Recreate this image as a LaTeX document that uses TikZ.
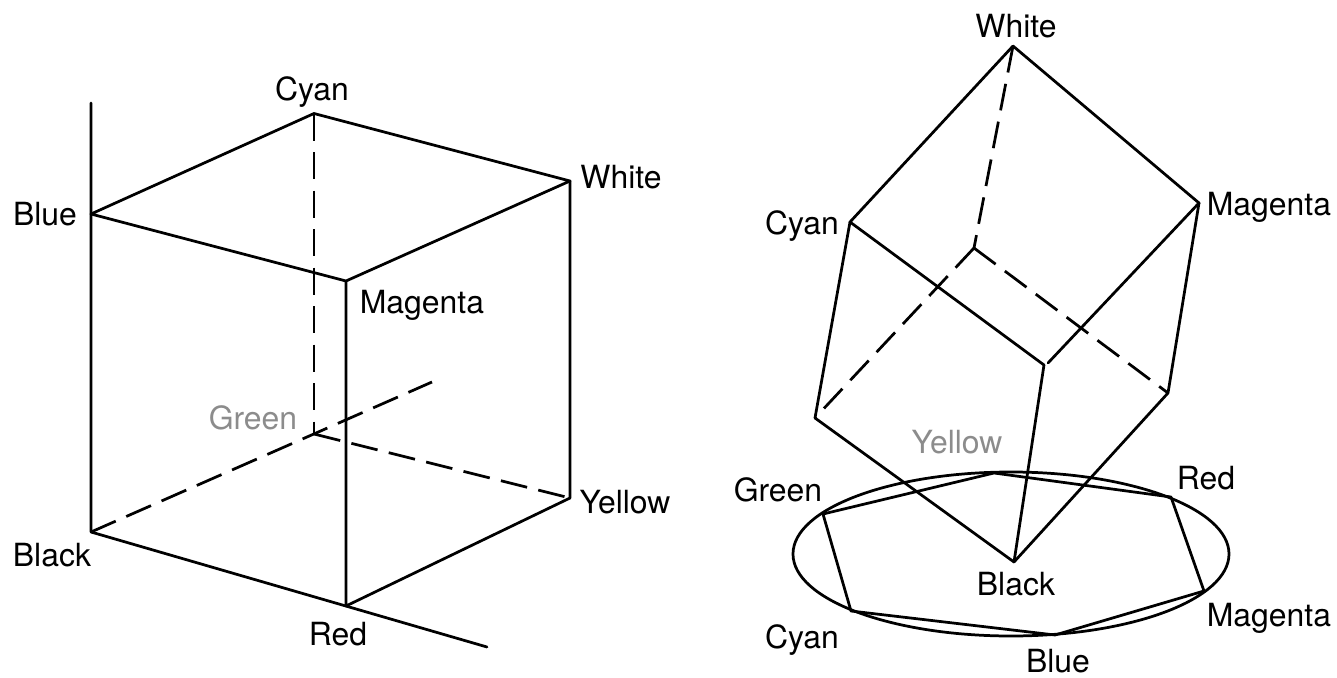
\documentclass[tikz,border=0pt]{standalone}
\usepackage{fontspec}
\setmainfont{TeX Gyre Heros}
\usepackage{tikz,pgf}
\usetikzlibrary{calc}
\tikzset{
  edge/.style={color=black,line width=1.95pt},
  hidden/.style={edge,line cap=butt,dash pattern=on 19.2pt off 8.2pt},
  lbl/.style={color=black,inner sep=0pt,anchor=base,font=\fontsize{22.7}{27}\selectfont},
  lblgray/.style={lbl,color=black!45}
}
\begin{document}
\begin{tikzpicture}[line cap=round,line join=round,x=0.025cm,y=-0.025cm]
      \useasboundingbox (0,0) rectangle (1337,678);
      % cube on the left
      \coordinate (blue) at (91,214);
      \coordinate (cyan) at (314,113.5);
      \coordinate (white) at (570,181);
      \coordinate (magenta) at (346,281);
      \coordinate (black) at (91,532);
      \coordinate (green) at (314,434);
      \coordinate (yellow) at (570,498);
      \coordinate (red) at (346,606);
      \coordinate (axisb) at (91,103);
      \coordinate (axisr) at (487,647);
      \coordinate (axisg) at (432,382);
      \draw[edge] (axisb) -- (black) -- (axisr);
      \draw[edge] (blue) -- (cyan) -- (white) -- (magenta) -- cycle;
      \draw[edge] (magenta) -- (red) -- (yellow) -- (white);
      \draw[hidden] (cyan) -- (green);
      \draw[hidden] (black) -- (axisg);
      \draw[hidden] (green) -- (yellow);
      \node[lbl] (lcyan) at (312,100) {Cyan};
      \node[lbl] (lblue) at (45,225) {Blue};
      \node[lbl] (lwhite) at (621,188) {White};
      \node[lbl] (lmagenta) at (422,313) {Magenta};
      \node[lblgray] (lgreen) at (253,429) {Green};
      \node[lbl] (lyellow) at (625,513) {Yellow};
      \node[lbl] (lblack) at (52,566) {Black};
      \node[lbl] (lred) at (338,645) {Red};
      % cube on the right
      \coordinate (rwhite) at (1013,46);
      \coordinate (rcyan) at (850,222);
      \coordinate (rmagenta) at (1199,203);
      \coordinate (rgreen) at (815,418);
      \coordinate (rblue) at (1044,365);
      \coordinate (rblueb) at (1048,363);
      \coordinate (rred) at (1168,393);
      \coordinate (rblack) at (1014,562);
      \coordinate (ryellow) at (974,248);
      \draw[edge] (rblueb) -- (rmagenta) -- (rwhite) -- (rcyan) -- (rblue) -- (rblack);
      \draw[edge] (rcyan) -- (rgreen) -- (rblack) -- (rred) -- (rmagenta);
      \draw[hidden] (rwhite) -- (ryellow);
      \draw[hidden] (ryellow) -- (rgreen);
      \draw[hidden] (ryellow) -- (rred);
      % hexagon
      \draw[edge] (1011,554) ellipse (218 and 82);
      \coordinate (hyellow) at (994,473);
      \coordinate (hred) at (1171,497);
      \coordinate (hmagenta) at (1204,591);
      \coordinate (hblue) at (1055,635);
      \coordinate (hcyan) at (851,611);
      \coordinate (hgreen) at (823,514);
      \draw[edge] (hyellow) -- (hred) -- (hmagenta) -- (hblue) -- (hcyan) -- (hgreen) -- cycle;
      \node[lbl] (twhite) at (1016,37) {White};
      \node[lbl] (tcyan) at (802,234) {Cyan};
      \node[lbl] (tmagenta) at (1269,215) {Magenta};
      \node[lblgray] (tyellow) at (957,453) {Yellow};
      \node[lbl] (tred) at (1206,489) {Red};
      \node[lbl] (tgreen) at (778,501) {Green};
      \node[lbl] (tblack) at (1016,595) {Black};
      \node[lbl] (tcyanb) at (802,648) {Cyan};
      \node[lbl] (tmagentab) at (1269,626) {Magenta};
      \node[lbl] (tblue) at (1058,672) {Blue};
    \end{tikzpicture}
\end{document}
